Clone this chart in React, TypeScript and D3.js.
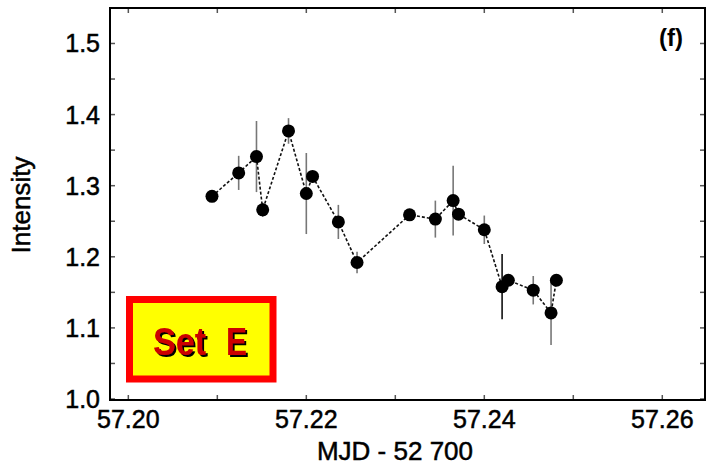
import React from 'react';
import * as d3 from 'd3';

// MJD - 52700 for each measurement
const mjd = [57.2094, 57.2124, 57.2144, 57.2151, 57.2180, 57.2200, 57.2207, 57.2236, 57.2257,
  57.2316, 57.2345, 57.2365, 57.2371, 57.2400, 57.2420, 57.2427, 57.2455, 57.2475, 57.2481];
const intensity = [1.285, 1.318, 1.341, 1.266, 1.377, 1.289, 1.313, 1.249, 1.192,
  1.259, 1.253, 1.279, 1.260, 1.238, 1.158, 1.167, 1.153, 1.121, 1.167];
const errs = [0.005, 0.024, 0.05, 0.01, 0.018, 0.057, 0.005, 0.024, 0.015,
  0.004, 0.026, 0.049, 0.005, 0.02, 0.046, 0.005, 0.02, 0.045, 0.005];

const xTickLabels = ['57.20', '57.22', '57.24', '57.26'];
const xMinorTicks = [57.20, 57.21, 57.22, 57.23, 57.24, 57.25, 57.26];
const yTickLabels = ['1.0', '1.1', '1.2', '1.3', '1.4', '1.5'];
const yMinorTicks = [1.0, 1.05, 1.1, 1.15, 1.2, 1.25, 1.3, 1.35, 1.4, 1.45, 1.5];

const W = 713;
const H = 467;
const left = 110, right = 705, top = 8, bottom = 400;
const font = '"Liberation Sans", Arial, Helvetica, sans-serif';

export default function App() {
  const x = d3.scaleLinear().domain([57.19794, 57.2648]).range([left, right]);
  const y = d3.scaleLinear().domain([0.9986, 1.5499]).range([bottom, top]);

  const pts = mjd.map((m, i) => [x(m), y(intensity[i])] as [number, number]);
  const line = d3.line()(pts) || '';
  const tick = 5;
  // slightly heavier text, like the original's rendering
  const heavy = { stroke: '#000', strokeWidth: 0.5 };

  return (
    <svg width={W} height={H} style={{ position: 'absolute', left: 0, top: 0, background: '#fff' }}>
      <defs>
        <filter id="shadow" x="-10%" y="-10%" width="130%" height="130%">
          <feDropShadow dx={2} dy={2} stdDeviation={0} floodColor="#000" floodOpacity={1} />
        </filter>
      </defs>
      {/* error bars */}
      {mjd.map((m, i) => (
        <line key={'e' + i} x1={x(m)} x2={x(m)} y1={y(intensity[i] - errs[i])} y2={y(intensity[i] + errs[i])}
          stroke={i === 14 ? '#111' : '#777'} strokeWidth={1.6} />
      ))}
      <path d={line} fill="none" stroke="#111" strokeWidth={1.6} strokeDasharray="3,2" />
      {pts.map((p, i) => (
        <circle key={'p' + i} cx={p[0]} cy={p[1]} r={6.5} fill="#000" />
      ))}

      {/* ticks, all four sides */}
      {xMinorTicks.map((v) => (
        <g key={'xt' + v} stroke="#555" strokeWidth={1.5}>
          <line x1={x(v)} x2={x(v)} y1={bottom} y2={bottom - tick} />
          <line x1={x(v)} x2={x(v)} y1={top} y2={top + tick} />
        </g>
      ))}
      {yMinorTicks.map((v) => (
        <g key={'yt' + v} stroke="#555" strokeWidth={1.5}>
          <line x1={left} x2={left + tick} y1={y(v)} y2={y(v)} />
          <line x1={right} x2={right - tick} y1={y(v)} y2={y(v)} />
        </g>
      ))}
      <rect x={left} y={top} width={right - left} height={bottom - top} fill="none" stroke="#000" strokeWidth={2} />

      {xTickLabels.map((t) => (
        <text key={'xl' + t} x={x(+t)} y={428} textAnchor="middle" fontFamily={font} fontSize={25} fill="#000" {...heavy}>{t}</text>
      ))}
      {yTickLabels.map((t) => (
        <text key={'yl' + t} x={100} y={y(+t) + 9} textAnchor="end" fontFamily={font} fontSize={25} fill="#000" {...heavy}>{t}</text>
      ))}

      <text x={395} y={460} textAnchor="middle" fontFamily={font} fontSize={26} fill="#000" {...heavy}>MJD - 52 700</text>
      <text transform="translate(30,205) rotate(-90)" textAnchor="middle" fontFamily={font} fontSize={26} fill="#000" {...heavy}>Intensity</text>
      <text x={671} y={46} textAnchor="middle" fontFamily={font} fontSize={24} fontWeight="bold" fill="#000">(f)</text>

      {/* Set E label */}
      <rect x={129.5} y={299.5} width={143.5} height={79.5} fill="#ffff00" stroke="#ff0000" strokeWidth={7} />
      <g fontFamily={font} fontSize={38} fontWeight="bold" fill="#cc0000" filter="url(#shadow)">
        <text x={153} y={355} textLength={53} lengthAdjust="spacingAndGlyphs">Set</text>
        <text x={226} y={355} textLength={21} lengthAdjust="spacingAndGlyphs">E</text>
      </g>
    </svg>
  );
}
